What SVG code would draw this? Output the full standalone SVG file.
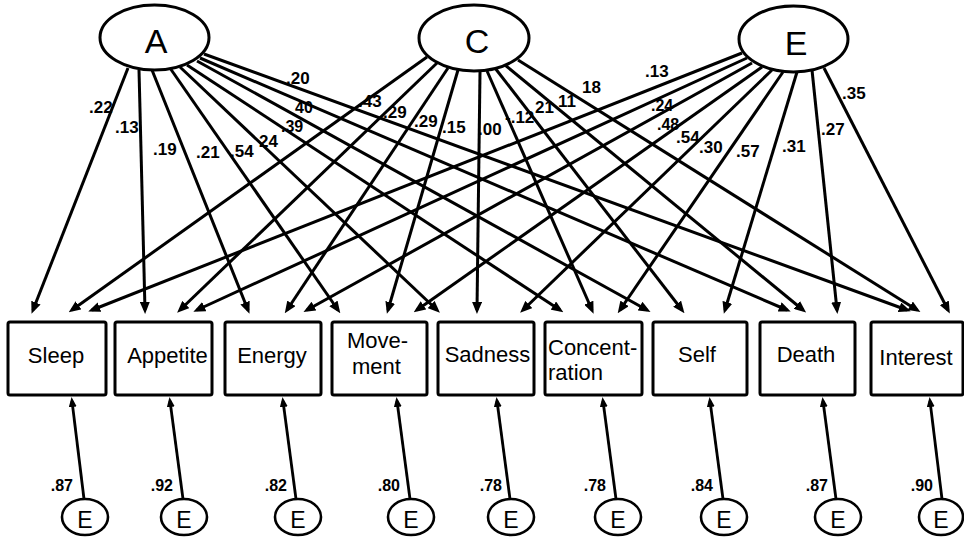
<svg xmlns="http://www.w3.org/2000/svg" width="964" height="542" viewBox="0 0 964 542">
<style>
.bg{fill:#fff}
.lat{fill:#fff;stroke:#000;stroke-width:3}
.box{fill:#fff;stroke:#000;stroke-width:3}
.err{fill:#fff;stroke:#000;stroke-width:2.6}
.ln{fill:none;stroke:#000;stroke-width:3}
.eln{fill:none;stroke:#000;stroke-width:2.8}
.lt{font-family:"Liberation Sans",Arial,sans-serif;font-size:34px;text-anchor:middle}
.bt{font-family:"Liberation Sans",Arial,sans-serif;font-size:22px}
.mid{text-anchor:middle}
.et{font-family:"Liberation Sans",Arial,sans-serif;font-size:23px;text-anchor:middle}
.lab{font-family:"Liberation Sans",Arial,sans-serif;font-size:17px;font-weight:bold}
.sm{font-size:16px}
.elab{font-family:"Liberation Sans",Arial,sans-serif;font-size:16px;font-weight:bold;text-anchor:end}
</style>
<defs>
<marker id="ah" viewBox="0 0 12 10" refX="8" refY="5" markerWidth="12" markerHeight="10" markerUnits="userSpaceOnUse" orient="auto">
<path d="M0,0 L12,5 L0,10 z" fill="#000"/>
</marker>
<marker id="ahs" viewBox="0 0 10 8" refX="6" refY="4" markerWidth="10" markerHeight="8" markerUnits="userSpaceOnUse" orient="auto">
<path d="M0,0 L10,4 L0,8 z" fill="#000"/>
</marker>
</defs>
<rect class="bg" x="0" y="0" width="964" height="542"/>

<g id="connectors">
<g id="from-A" marker-end="url(#ah)">
<path class="ln" d="M128,68 L33,310"/>
<path class="ln" d="M139,70 L145,310"/>
<path class="ln" d="M152,70 L248,310"/>
<path class="ln" d="M170,68 L338,310"/>
<path class="ln" d="M180,67 L437,310"/>
<path class="ln" d="M187,65 L560,310"/>
<path class="ln" d="M197,61 L647,310"/>
<path class="ln" d="M200,58 L787,310"/>
<path class="ln" d="M204,54 L907,310"/>
</g>
<g id="from-C" marker-end="url(#ah)">
<path class="ln" d="M427,57 L72,310"/>
<path class="ln" d="M437,63 L180,310"/>
<path class="ln" d="M448,68 L287,310"/>
<path class="ln" d="M458,70 L388,310"/>
<path class="ln" d="M480,72 L477,310"/>
<path class="ln" d="M487,71 L592,310"/>
<path class="ln" d="M495,68 L682,310"/>
<path class="ln" d="M505,65 L803,310"/>
<path class="ln" d="M518,60 L917,310"/>
</g>
<g id="from-E" marker-end="url(#ah)">
<path class="ln" d="M742,53 L92,310"/>
<path class="ln" d="M747,58 L197,310"/>
<path class="ln" d="M752,63 L307,310"/>
<path class="ln" d="M762,67 L417,310"/>
<path class="ln" d="M772,70 L523,310"/>
<path class="ln" d="M783,72 L620,310"/>
<path class="ln" d="M797,72 L725,310"/>
<path class="ln" d="M812,70 L837,310"/>
<path class="ln" d="M824,68 L948,310"/>
</g>
<g id="errors" marker-end="url(#ahs)">
<path class="eln" d="M84,499 L72,401"/>
<path class="eln" d="M183,499 L170,401"/>
<path class="eln" d="M296,499 L283,401"/>
<path class="eln" d="M410,499 L397,401"/>
<path class="eln" d="M510,499 L497,401"/>
<path class="eln" d="M616,499 L603,401"/>
<path class="eln" d="M723,499 L710,401"/>
<path class="eln" d="M836,499 L823,401"/>
<path class="eln" d="M942,499 L930,401"/>
</g>
<g id="loadings">
<text class="lab" x="89" y="113">.22</text>
<text class="lab" x="115" y="133">.13</text>
<text class="lab" x="153" y="155">.19</text>
<text class="lab" x="196" y="158">.21</text>
<text class="lab" x="230" y="157">.54</text>
<text class="lab" x="259" y="147">24</text>
<text class="lab sm" x="281" y="132">.39</text>
<text class="lab sm" x="295" y="113">40</text>
<text class="lab" x="286" y="84">.20</text>
<text class="lab" x="358" y="107">.43</text>
<text class="lab" x="383" y="118">.29</text>
<text class="lab" x="414" y="127">.29</text>
<text class="lab" x="442" y="133">.15</text>
<text class="lab" x="478" y="135">.00</text>
<text class="lab" x="505" y="123">-.12</text>
<text class="lab" x="535" y="113">21</text>
<text class="lab" x="558" y="107">11</text>
<text class="lab" x="582" y="93">18</text>
<text class="lab" x="645" y="77">.13</text>
<text class="lab sm" x="651" y="111">.24</text>
<text class="lab sm" x="657" y="130">.48</text>
<text class="lab" x="676" y="143">.54</text>
<text class="lab" x="699" y="153">.30</text>
<text class="lab" x="736" y="157">.57</text>
<text class="lab" x="782" y="152">.31</text>
<text class="lab" x="821" y="135">.27</text>
<text class="lab" x="842" y="99">.35</text>
<text class="elab" x="73" y="491">.87</text>
<text class="elab" x="173" y="491">.92</text>
<text class="elab" x="287" y="491">.82</text>
<text class="elab" x="400" y="491">.80</text>
<text class="elab" x="502" y="491">.78</text>
<text class="elab" x="606" y="491">.78</text>
<text class="elab" x="713" y="491">.84</text>
<text class="elab" x="828" y="491">.87</text>
<text class="elab" x="933" y="491">.90</text>
</g>
</g>

<g id="A"><ellipse class="lat" cx="154.5" cy="37.5" rx="54.5" ry="32.5"/><text class="lt" x="156" y="53">A</text></g>
<g id="C"><ellipse class="lat" cx="474" cy="38" rx="55" ry="33"/><text class="lt" x="477" y="53">C</text></g>
<g id="E"><ellipse class="lat" cx="793.5" cy="39" rx="54.5" ry="33"/><text class="lt" x="796" y="55">E</text></g>

<g id="Sleep"><rect class="box" x="8" y="322" width="98" height="73" rx="2"/><text class="bt mid" x="56" y="363">Sleep</text></g>
<g id="Appetite"><rect class="box" x="115" y="322" width="97" height="73" rx="2"/><text class="bt mid" x="167.5" y="363">Appetite</text></g>
<g id="Energy"><rect class="box" x="225" y="322" width="96" height="73" rx="2"/><text class="bt mid" x="272" y="363">Energy</text></g>
<g id="Movement"><rect class="box" x="332" y="322" width="95" height="73" rx="2"/><text class="bt" x="347" y="348">Move-</text><text class="bt" x="352" y="374">ment</text></g>
<g id="Sadness"><rect class="box" x="438" y="322" width="96" height="73" rx="2"/><text class="bt mid" x="487.5" y="362">Sadness</text></g>
<g id="Concentration"><rect class="box" x="545" y="322" width="97" height="73" rx="2"/><text class="bt" x="548" y="355">Concent-</text><text class="bt" x="548" y="380">ration</text></g>
<g id="Self"><rect class="box" x="653" y="322" width="94" height="73" rx="2"/><text class="bt mid" x="697" y="362">Self</text></g>
<g id="Death"><rect class="box" x="760" y="322" width="95" height="73" rx="2"/><text class="bt mid" x="806" y="362">Death</text></g>
<g id="Interest"><rect class="box" x="871" y="322" width="92" height="73" rx="2"/><text class="bt mid" x="916" y="365">Interest</text></g>

<g id="e1"><ellipse class="err" cx="85" cy="517" rx="23" ry="18"/><text class="et" x="85" y="528">E</text></g>
<g id="e2"><ellipse class="err" cx="184" cy="517" rx="23" ry="18"/><text class="et" x="184" y="528">E</text></g>
<g id="e3"><ellipse class="err" cx="298" cy="517" rx="23" ry="18"/><text class="et" x="298" y="528">E</text></g>
<g id="e4"><ellipse class="err" cx="411" cy="517" rx="23" ry="18"/><text class="et" x="411" y="528">E</text></g>
<g id="e5"><ellipse class="err" cx="511" cy="517" rx="23" ry="18"/><text class="et" x="511" y="528">E</text></g>
<g id="e6"><ellipse class="err" cx="618" cy="517" rx="23" ry="18"/><text class="et" x="618" y="528">E</text></g>
<g id="e7"><ellipse class="err" cx="724" cy="517" rx="23" ry="18"/><text class="et" x="724" y="528">E</text></g>
<g id="e8"><ellipse class="err" cx="838" cy="517" rx="23" ry="18"/><text class="et" x="838" y="528">E</text></g>
<g id="e9"><ellipse class="err" cx="941" cy="517" rx="22" ry="18"/><text class="et" x="941" y="528">E</text></g>
</svg>
